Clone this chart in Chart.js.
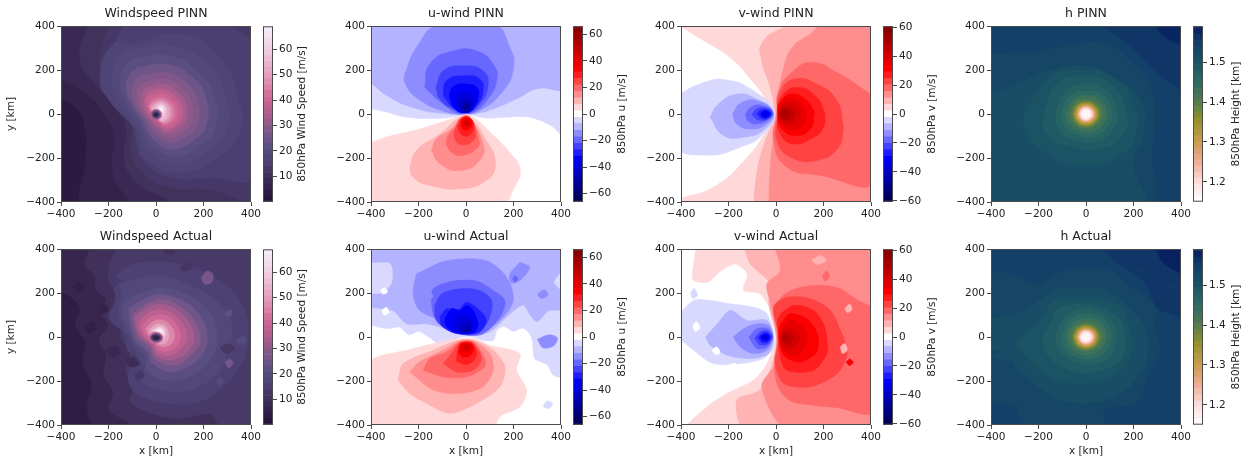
<!DOCTYPE html>
<html>
<head>
<meta charset="utf-8">
<script src="https://cdn.jsdelivr.net/npm/chart.js@4"></script>
<style>
  html, body { margin: 0; background: #fff; }
  #fig { position: relative; width: 1250px; height: 461px; overflow: hidden; filter: blur(0.35px); }
  canvas { position: absolute; }
</style>
</head>
<body>
<div id="fig"></div>
<script>
// contour rows: level, then x,y pairs in km, painted in order (outer first)
const windPinnContours = [
  [3, -420,-420, 420,-420, 420,420, -420,420],
  [5.5, -420,80, -340,30, -300,-60, -295,-200, -290,-420, 420,-420, 420,420, -420,420],
  [8, -420,170, -300,95, -210,-10, -175,-110, -185,-240, -150,-340, -60,-420, 420,-420, 420,420, -420,420],
  [10.5, -285,420, -320,250, -250,130, -165,20, -125,-70, -135,-180, -100,-290, 10,-370, 160,-420, 420,-420, 420,420],
  [12.5, -190,420, -230,300, -230,170, -150,50, -105,-50, -105,-150, -70,-250, 40,-330, 200,-340, 420,-360, 420,420],
  [14.5, -130,420, -170,320, -190,200, -130,60, -90,-40, -85,-130, -50,-215, 50,-285, 220,-290, 420,-270, 420,290, 330,390, 280,420],
  [16.5, -97,317, 113,362, 267,257, 350,60, 350,-90, 240,-210, 100,-265, -40,-210, -80,-120, -95,-60, -195,60, -235,165, -180,317],
  [18.5, -120,290, 60,310, 210,230, 290,90, 295,-70, 210,-175, 90,-225, -30,-175, -65,-100, -80,-50, -150,50, -185,160, -160,250],
  [21, -100,250, 50,265, 170,200, 245,80, 250,-60, 180,-150, 80,-190, -15,-145, -50,-85, -65,-40, -120,45, -150,140, -135,210],
  [24.5, -80,210, 45,225, 150,170, 210,70, 210,-55, 150,-125, 70,-160, -5,-120, -40,-70, -55,-32, -100,40, -125,120, -110,180],
  [27.5, -65,175, 40,190, 125,145, 175,60, 175,-45, 125,-105, 65,-130, 5,-100, -28,-58, -45,-27, -85,35, -100,100, -90,150],
  [30, -50,145, 35,160, 105,120, 150,50, 148,-40, 105,-85, 55,-105, 10,-82, -20,-48, -36,-22, -70,30, -80,85, -70,125],
  [33, -40,120, 35,135, 90,100, 128,45, 125,-32, 90,-70, 50,-85, 15,-68, -12,-40, -28,-18, -55,28, -62,72, -55,105],
  [37, -30,98, 30,112, 78,85, 108,38, 106,-28, 78,-58, 45,-70, 18,-55, -5,-33, -20,-14, -42,25, -48,60, -42,85],
  [40, -22,80, 28,92, 68,70, 92,32, 90,-24, 66,-48, 40,-58, 20,-45, 2,-26, -14,-8, -32,24, -36,50, -32,70],
  [43, -14,66, 28,76, 58,58, 78,28, 76,-20, 56,-40, 36,-48, 20,-37, 6,-20, -8,-2, -24,22, -26,46],
  [47, -8,56, 26,64, 50,50, 66,24, 64,-18, 46,-36, 28,-40, 16,-28, 4,-14, -14,2, -24,22, -24,40],
  [51, -4,48, 24,56, 44,44, 56,20, 54,-14, 38,-30, 22,-34, 4,-18, -10,2, -18,26],
  [55, 0,42, 24,48, 40,36, 46,14, 42,-14, 28,-28, 14,-24, -6,-8, -10,20],
  [59, 4,34, 24,42, 36,30, 38,8, 30,-10, 18,-4, 8,10],
  [63, 8,30, 24,36, 32,26, 32,10, 24,4, 14,12],
  [66, 12,28, 24,32, 30,24, 28,12, 20,10],
  [68, 16,26, 24,28, 27,22, 24,16, 18,18],
  [36, -24,-3, -17,14, 0,21, 17,14, 24,-3, 17,-20, 0,-27, -17,-20],
  [25, -19,-3, -13,10, 0,16, 13,10, 19,-3, 13,-16, 0,-22, -13,-16],
  [14, -14,-3, -10,7, 0,11, 10,7, 14,-3, 10,-13, 0,-17, -10,-13],
  [5, -8,-3, -5,3, 0,5, 5,3, 8,-3, 5,-9, 0,-11, -5,-9]
];
const windActualContours = [
  [4, -420,-420, 420,-420, 420,420, -420,420],
  [7, -420,420, 420,420, 420,-420, -250,-420, -290,-320, -270,-210, -310,-120, -300,-30, -340,60, -320,130, -370,190, -420,210],
  [10, -270,420, -300,330, -260,280, -250,210, -210,170, -230,110, -200,50, -240,-10, -210,-80, -220,-170, -180,-250, -200,-330, -130,-380, -60,-420, 420,-420, 420,420],
  [13, -150,420, -190,350, -200,260, -150,200, -170,130, -130,60, -150,0, -110,-70, -130,-150, -90,-220, -110,-290, -40,-340, 90,-370, 230,-350, 270,-400, 420,-380, 420,420],
  [15.5, -190,260, -100,330, 50,340, 200,300, 330,200, 390,60, 370,-100, 290,-220, 170,-300, 30,-300, -90,-250, -120,-170, -80,-100, -120,-60, -140,20, -200,90, -170,170],
  [18, -160,240, -90,260, 20,280, 130,240, 240,180, 320,60, 300,-80, 250,-180, 130,-245, 20,-240, -60,-200, -50,-140, -75,-85, -100,-30, -140,50, -160,130, -140,190],
  [21, -130,170, -60,200, 10,225, 90,210, 170,170, 240,90, 255,-40, 210,-130, 120,-190, 30,-195, -40,-150, -40,-100, -65,-60, -95,-20, -120,50, -140,110],
  [25, -115,130, -60,165, 10,195, 90,175, 150,140, 205,60, 215,-30, 175,-105, 100,-150, 40,-155, -20,-115, -30,-75, -55,-45, -85,-15, -105,45],
  [29, -100,100, -55,140, 10,170, 70,160, 130,115, 175,50, 185,-30, 145,-85, 90,-125, 40,-125, -10,-95, -20,-60, -45,-30, -75,-5, -90,40],
  [33, -90,85, -50,125, 5,150, 60,140, 110,105, 150,45, 160,-20, 130,-70, 85,-100, 40,-105, -5,-80, -15,-50, -35,-25, -65,0, -80,35],
  [37, -75,65, -40,105, 5,125, 55,115, 95,85, 125,35, 130,-15, 105,-55, 70,-80, 35,-85, 0,-65, -8,-40, -28,-20, -55,5, -68,30],
  [41, -60,50, -30,85, 5,100, 45,95, 80,65, 100,25, 100,-15, 85,-45, 55,-62, 30,-65, 2,-50, -5,-30, -22,-12, -45,8],
  [46, -42,40, -20,65, 10,78, 40,72, 65,48, 78,15, 72,-20, 55,-38, 35,-45, 10,-38, -5,-22, -18,-5, -35,15],
  [51, -28,35, -8,52, 18,60, 40,50, 52,25, 52,-8, 40,-28, 20,-32, 0,-25, -18,-4],
  [58, -15,30, 5,44, 25,46, 38,30, 38,5, 30,-12, 20,-2, 5,12],
  [64, -5,28, 10,38, 25,36, 32,22, 30,8, 18,10],
  [68, 0,28, 14,34, 24,30, 24,18, 12,18],
  [40, -30,-3, -21,15, 0,23, 21,15, 30,-3, 21,-21, 0,-29, -21,-21],
  [26, -25,-3, -17,11, 0,17, 17,11, 25,-3, 17,-17, 0,-23, -17,-17],
  [12, -20,-3, -14,7, 0,11, 14,7, 20,-3, 14,-13, 0,-17, -14,-13],
  [5, -13,-3, -8,3, 0,5, 8,3, 13,-3, 8,-9, 0,-11, -8,-9],
  [26, 190,270, 215,300, 240,285, 235,250, 205,240],
  [22, 290,110, 315,125, 320,100, 295,95],
  [26, 290,-115, 310,-100, 325,-120, 305,-140],
  [12, 270,-50, 300,-30, 330,-55, 295,-75],
  [9, -130,-100, -90,-95, -70,-125, -110,-135],
  [8, -210,-60, -170,-40, -150,-75, -190,-95],
  [5, -350,230, -320,250, -300,225, -330,205],
  [5, -300,40, -270,70, -250,40, -280,15],
  [13, -200,250, -170,275, -150,250, -180,230],
  [12, 100,320, 140,340, 150,310, 115,300],
  [20, 340,-10, 370,5, 380,-25, 350,-35],
  [10, 30,395, 60,410, 80,385, 45,375],
  [4, -330,-20, -310,-5, -295,-30, -320,-45],
  [6, -240,130, -220,150, -200,125, -225,105],
  [12, -90,-170, -60,-155, -50,-180, -80,-195],
  [20, 250,-200, 270,-185, 285,-205, 262,-220]
];
const uPinnContours = [
  [-4.9, -420,28, -340,10, -265,-12, -125,-20, -20,-8, 10,-2, 50,-12, 90,-18, 170,-15, 240,-12, 300,-25, 360,-55, 420,-100, 420,420, -420,420],
  [-9.8, -420,160, -320,75, -200,22, -90,2, -20,0, 40,2, 120,25, 215,70, 300,115, 420,125, 420,420, -420,420],
  [-14.7, -258,181, -209,302, -110,410, 115,410, 185,302, 200,211, 157,106, 58,15, 0,0, -82,8, -209,75, -258,143],
  [-19.6, -174,121, -153,226, -54,287, 44,287, 115,226, 129,151, 86,60, 30,8, -26,0, -96,45],
  [-24.4, -127,121, -96,196, -12,219, 72,196, 93,128, 58,45, 9,8, -54,23, -110,68],
  [-29.3, -96,83, -82,151, -5,174, 58,158, 72,106, 44,38, 2,8, -47,23],
  [-34.2, -71,83, -54,124, 2,136, 47,118, 51,75, 30,23, 0,5, -47,23],
  [-39, -45,60, -30,95, 10,100, 35,75, 30,35, 10,10, -25,18],
  [-44, -30,45, -15,68, 10,68, 25,50, 20,25, 5,8, -15,15],
  [-48.9, -15,35, 0,50, 15,42, 15,22, 2,12, -8,18],
  [-53.8, -6,30, 2,36, 9,28, 4,20, -4,22],
  [4.9, -420,-140, -335,-105, -195,-68, -82,-30, -10,-3, 25,-10, 90,-70, 180,-170, 228,-250, 205,-330, 140,-420, -380,-420, -420,-375],
  [9.8, -237,-242, -209,-166, -110,-91, -26,-15, 9,-8, 86,-121, 124,-226, 86,-302, -26,-340, -153,-325, -223,-287],
  [14.7, -146,-166, -124,-113, -61,-68, -19,-15, 9,-15, 72,-136, 58,-211, -26,-257, -110,-226],
  [19.6, -85,-136, -75,-98, -33,-45, -12,-15, 16,-15, 55,-121, 44,-158, -19,-189, -61,-174],
  [24.4, -51,-91, -40,-53, -19,-18, 16,-18, 41,-91, 23,-128, -12,-140, -40,-128],
  [29.3, -33,-53, -15,-18, 16,-18, 33,-53, 16,-94, -12,-98, -29,-75],
  [34.2, -22,-42, -10,-20, 14,-20, 26,-42, 15,-66, -5,-72, -18,-60],
  [39, -15,-38, 0,-25, 15,-30, 20,-45, 8,-58, -8,-55],
  [44, -8,-38, 3,-32, 12,-38, 8,-48, -3,-48]
];
const uActualContours = [
  [-4.9, -420,60, -335,38, -280,45, -240,10, -200,25, -150,-5, -110,-35, -60,-25, -25,0, 30,0, 70,-15, 115,-15, 130,30, 160,48, 200,25, 240,40, 275,0, 283,-60, 290,-100, 340,-125, 370,-175, 420,-175, 420,420, -420,420],
  [-9.8, -420,135, -310,120, -250,60, -170,60, -110,45, -50,25, 0,10, 60,10, 110,30, 170,90, 240,145, 270,100, 300,70, 350,120, 420,130, 420,420, -420,420, -420,345, -320,335, -310,250, -350,200, -420,190],
  [-14.7, -209,287, -223,196, -195,121, -110,75, -54,30, 44,15, 143,75, 199,166, 171,272, 86,347, -82,347],
  [-19.6, -146,158, -138,219, -54,254, 44,254, 115,211, 164,166, 143,90, 72,15, 2,8, -68,30, -132,90],
  [-24.4, -132,143, -103,196, -26,219, 58,211, 108,166, 100,90, 58,23, 2,12, -61,23, -125,75],
  [-29.3, -110,90, -82,128, -30,125, 2,158, 58,121, 86,75, 58,23, 2,12, -61,23, -103,53],
  [-34.2, -89,83, -61,128, -26,121, 2,143, 30,121, 51,60, 37,23, 2,15, -54,23, -85,53],
  [-39, -60,55, -30,95, 5,100, 30,75, 30,35, 0,18, -40,25],
  [-44, -30,40, -10,68, 15,65, 25,40, 5,20, -20,22],
  [-48.9, -10,35, 5,48, 18,38, 8,22, -6,24],
  [4.9, -420,-128, -377,-91, -251,-60, -138,-30, -40,-8, 37,-8, 100,-38, 227,-75, 213,-151, 255,-241, 227,-317, 143,-362, 108,-420, -420,-420],
  [9.8, -286,-196, -265,-121, -138,-60, -33,-15, 30,-15, 115,-60, 164,-136, 143,-226, 44,-302, -68,-347, -166,-302, -237,-257],
  [14.7, -237,-158, -195,-113, -96,-60, -26,-18, 30,-18, 100,-75, 115,-151, 72,-226, -26,-257, -138,-241],
  [19.6, -180,-151, -152,-98, -82,-68, -26,-23, 30,-23, 79,-98, 79,-136, 2,-181, -96,-181],
  [24.4, -96,-121, -61,-75, -26,-27, 28,-27, 65,-98, 30,-151, -40,-158],
  [29.3, -40,-110, -35,-60, -22,-27, 25,-27, 45,-75, 30,-110, 0,-125],
  [34.2, -32,-70, -20,-30, 22,-30, 32,-60, 12,-88, -15,-90],
  [39, -25,-58, -14,-32, 16,-32, 25,-50, 8,-70, -12,-72],
  [44, -12,-50, 0,-36, 14,-40, 12,-56, -2,-60],
  [-14.7, 227,340, 185,287, 190,245, 227,257, 269,317],
  [-19.6, 195,265, 205,250, 220,265, 205,278],
  [-4.9, 340,-290, 365,-300, 350,-325, 325,-315],
  [-14.7, 300,-10, 350,10, 385,-5, 370,-40, 325,-50],
  [-4.9, 370,250, 400,290, 420,250, 395,220],
  [0, -360,210, -345,225, -330,205, -350,195],
  [0, -355,120, -335,135, -325,110, -345,100],
  [0, 310,-140, 335,-150, 320,-170],
  [-14.7, -180,190, -150,205, -140,180, -170,170],
  [-14.7, 300,195, 330,215, 345,190, 315,175]
];
const vPinnContours = [
  [4.5, -420,410, -300,330, -193,257, -100,150, -50,80, -5,8, -8,-5, -40,-75, -120,-195, -260,-330, -420,-395, -420,-420, 420,-420, 420,420],
  [9, -95,-420, -85,-300, -60,-170, -5,-10, -5,10, -25,120, -60,240, -60,320, 15,385, 100,405, 200,420, 420,420, 420,-420],
  [13.5, -30,-420, -25,-250, -10,-100, 0,-8, 8,70, 35,220, 70,305, 140,360, 215,420, 420,420, 420,-420],
  [18, 420,75, 257,189, 152,234, 74,196, 11,106, 4,0, -10,-121, 46,-242, 186,-279, 420,-315, 420,-100],
  [22.4, 285,-60, 257,60, 172,136, 74,158, 15,90, 8,-7, 4,-121, 60,-196, 172,-211, 264,-151],
  [26.9, 207,0, 172,75, 88,121, 21,75, 7,-7, 18,-91, 74,-136, 158,-106, 200,-60],
  [31.4, 162,8, 130,60, 74,91, 21,60, 8,-7, 25,-68, 81,-98, 144,-68],
  [35.9, 130,10, 100,55, 60,72, 25,50, 10,-5, 28,-55, 70,-75, 115,-50],
  [40.4, 105,5, 80,40, 50,50, 25,38, 13,-5, 30,-40, 60,-50, 90,-30],
  [44.9, 80,0, 62,28, 40,32, 22,20, 15,-5, 30,-30, 52,-30, 70,-18],
  [49.4, 60,0, 48,16, 34,18, 22,8, 20,-6, 32,-18, 46,-16],
  [-4.5, -420,85, -305,143, -214,156, -95,106, -8,8, -53,-91, -151,-151, -291,-187, -420,-143],
  [-9, -278,-15, -243,45, -165,90, -81,68, -11,8, -46,-68, -137,-106, -221,-98],
  [-13.5, -183,0, -151,48, -81,60, -13,8, -39,-45, -109,-68, -165,-45],
  [-18, -130,0, -102,33, -53,38, -13,8, -36,-30, -81,-45, -116,-33],
  [-22.4, -102,-3, -81,23, -39,27, -16,3, -36,-23, -74,-27],
  [-26.9, -80,0, -62,18, -38,18, -20,2, -34,-18, -60,-20],
  [-31.4, -65,0, -52,12, -35,12, -26,0, -36,-14, -54,-14],
  [-35.9, -52,0, -44,7, -34,5, -32,-5, -42,-9]
];
const vActualContours = [
  [4.5, -333,420, -347,332, -347,257, -248,257, -178,332, -122,287, -137,211, -67,196, -10,90, 0,0, -38,-121, -95,-196, -207,-257, -290,-317, -375,-420, 420,-420, 420,420],
  [9, -137,420, -108,332, -25,242, -31,151, 0,0, -11,-106, -71,-242, -165,-287, -129,-420, 420,-420, 420,420],
  [13.5, -10,420, 18,302, -38,242, -25,158, 3,0, -3,-121, -60,-226, 46,-420, 420,-420, 420,420],
  [18, 420,130, 340,170, 270,220, 190,235, 100,225, 30,190, 0,130, 5,40, 5,-30, -8,-120, 10,-230, 60,-290, 150,-310, 250,-320, 420,-340],
  [22.4, 285,0, 300,-75, 258,-166, 145,-226, 32,-211, -3,-121, 11,0, -10,136, 46,181, 145,174, 229,121],
  [26.9, 214,0, 214,-75, 158,-151, 46,-151, 18,-90, 11,0, 11,90, 74,143, 158,121, 200,60],
  [31.4, 179,0, 172,-68, 102,-113, 39,-90, 15,-30, 15,45, 60,106, 130,83, 165,38],
  [35.9, 135,0, 115,-60, 70,-85, 30,-60, 18,-15, 28,45, 60,80, 105,55],
  [40.4, 100,0, 85,-40, 55,-55, 28,-40, 20,-10, 28,25, 55,40, 85,25],
  [44.9, 75,-5, 60,-28, 40,-32, 25,-15, 28,10, 45,20, 65,10],
  [49.4, 55,-5, 42,-18, 30,-10, 32,5, 45,8],
  [-4.5, -420,90, -347,166, -277,166, -193,151, -95,136, -38,106, -10,15, -10,-45, -53,-98, -151,-121, -263,-121, -347,-60, -420,15],
  [-9, -297,0, -247,60, -193,121, -122,75, -38,75, -10,0, -31,-75, -107,-98, -206,-83, -277,-38],
  [-13.5, -180,0, -137,38, -81,60, -31,53, -13,0, -38,-60, -95,-75, -151,-45],
  [-18, -115,0, -80,38, -31,38, -13,0, -36,-45, -80,-53],
  [-22.4, -90,-5, -65,25, -35,28, -16,0, -34,-32, -70,-35],
  [-26.9, -75,-3, -55,18, -35,18, -22,0, -35,-24, -60,-24],
  [-31.4, -65,0, -50,12, -35,10, -28,-2, -38,-16, -55,-15],
  [-35.9, -55,-2, -44,6, -36,2, -38,-8, -48,-10],
  [31.4, 295,-115, 310,-100, 325,-115, 310,-130],
  [9, 290,130, 310,150, 320,125, 300,110],
  [18, 195,280, 215,300, 225,270, 205,255],
  [9, 270,-45, 290,-30, 300,-60, 280,-75],
  [0, -270,-60, -250,-45, -235,-70, -255,-80],
  [0, -210,-130, -170,-120, -175,-140, -215,-150],
  [0, -350,50, -335,70, -320,40, -340,25],
  [0, -300,230, -200,320, -150,300, -240,220],
  [-4.5, -360,200, -345,220, -330,190, -350,175],
  [9, 150,350, 190,370, 210,345, 170,330],
  [18, 310,-200, 340,-180, 360,-215, 330,-240]
];
const hPinnContours = [
  [1.58, -420,-420, 420,-420, 420,420, -420,420],
  [1.56, 270,420, 330,350, 420,270, 420,-420, -420,-420, -420,420],
  [1.545, 40,420, 160,330, 290,195, 420,50, 420,-420, -420,-420, -420,420],
  [1.53, -420,270, -200,285, -30,320, 70,320, 180,250, 270,130, 290,-20, 280,-150, 250,-420, -380,-420, -420,-380],
  [1.515, -420,80, -263,151, -136,204, -10,219, 117,166, 230,60, 240,-100, 200,-220, 230,-420, -380,-420, -420,-380],
  [1.5, -263,0, -256,-75, -165,-181, -10,-234, 152,-181, 208,-91, 201,45, 117,166, -10,200, -136,180, -221,75],
  [1.485, -178,15, -165,-91, -52,-151, 60,-158, 158,-91, 165,30, 102,136, -10,174, -122,136],
  [1.47, -130,15, -115,-70, -50,-115, 40,-125, 110,-75, 130,20, 85,105, -5,135, -85,105]
];
const hActualContours = [
  [1.585, -420,-420, 420,-420, 420,420, -420,420],
  [1.56, -420,-420, -420,420, 270,420, 320,340, 420,250, 420,-420],
  [1.545, 50,420, 120,345, 240,255, 300,130, 420,60, 420,-420, -420,-420, -420,420],
  [1.53, -420,290, -320,290, -200,240, -120,290, 0,310, 110,300, 190,225, 290,140, 290,40, 310,-50, 260,-170, 210,-300, 80,-330, 75,-420, -250,-420, -300,-310, -420,-290],
  [1.515, -420,80, -310,100, -220,150, -130,215, -30,225, 80,215, 170,150, 250,40, 260,-80, 215,-190, 120,-270, 20,-300, -100,-290, -200,-230, -290,-140, -340,-60, -420,-60],
  [1.5, -300,-30, -240,30, -190,80, -130,170, -30,170, 70,170, 150,130, 185,40, 195,-50, 170,-130, 90,-190, 0,-210, -120,-200, -220,-130],
  [1.485, -185,0, -150,60, -120,130, -20,150, 80,130, 150,70, 165,-20, 150,-100, 70,-150, -10,-165, -110,-130, -170,-70],
  [1.47, -130,10, -115,-60, -50,-110, 30,-125, 105,-85, 130,20, 85,100, 0,130, -85,100],
  [1.555, 205,300, 225,285, 235,305, 215,315],
  [1.555, 350,220, 385,225, 380,240, 355,240],
  [1.515, -340,-50, -300,-70, -320,-110, -390,-90]
];
const hCoreContours = [
  [1.45, -105,5, -90,-55, -40,-92, 30,-100, 90,-60, 108,15, 70,85, 0,105, -70,80],
  [1.43, -85,5, -70,-45, -30,-75, 25,-80, 72,-45, 88,10, 58,65, 0,85, -55,62],
  [1.41, -70,2, -55,-40, 0,-65, 55,-40, 72,5, 48,52, 0,68, -48,50],
  [1.39, -60,0, -42,-42, 0,-59, 42,-42, 60,0, 42,42, 0,58, -42,42],
  [1.37, -54,0, -38,-38, 0,-54, 38,-38, 54,0, 38,38, 0,54, -38,38],
  [1.35, -50,0, -35,-35, 0,-50, 35,-35, 50,0, 35,35, 0,50, -35,35],
  [1.33, -46,0, -33,-33, 0,-46, 33,-33, 46,0, 33,33, 0,46, -33,33],
  [1.31, -42,0, -30,-30, 0,-42, 30,-30, 42,0, 30,30, 0,42, -30,30],
  [1.29, -39,0, -28,-28, 0,-39, 28,-28, 39,0, 28,28, 0,39, -28,28],
  [1.27, -36,0, -25,-25, 0,-36, 25,-25, 36,0, 25,25, 0,36, -25,25],
  [1.25, -33,0, -23,-23, 0,-33, 23,-23, 33,0, 23,23, 0,33, -23,23],
  [1.23, -30,0, -21,-21, 0,-30, 21,-21, 30,0, 21,21, 0,30, -21,21],
  [1.21, -27,0, -19,-19, 0,-27, 19,-19, 27,0, 19,19, 0,27, -19,19],
  [1.19, -23,0, -16,-16, 0,-23, 16,-16, 23,0, 16,16, 0,23, -16,16],
  [1.165, -18,0, -13,-13, 0,-18, 13,-13, 18,0, 13,13, 0,18, -13,13]
];

// colorbar band edges and ticks
const windLevels = [0,2.3,4.6,6.9,9.2,11.5,13.8,16.1,18.4,20.7,23,25.3,27.6,29.9,32.2,34.5,36.8,39.1,41.4,43.7,46,48.3,50.6,52.9,55.2,57.5,59.8,62.1,64.4,66.7,69];
const uLevels = [-66,-61.1,-56.2,-51.3,-46.4,-41.5,-36.6,-31.7,-26.9,-22,-17.1,-12.2,-7.3,-2.45,2.45,7.3,12.2,17.1,22,26.9,31.7,36.6,41.5,46.4,51.3,56.2,61.1,66];
const vLevels = [-60.6,-56.1,-51.6,-47.1,-42.6,-38.1,-33.7,-29.2,-24.7,-20.2,-15.7,-11.2,-6.7,-2.25,2.25,6.7,11.2,15.7,20.2,24.7,29.2,33.7,38.1,42.6,47.1,51.6,56.1,60.6];
const hLevels = [1.15,1.165,1.18,1.195,1.21,1.225,1.24,1.255,1.27,1.285,1.3,1.315,1.33,1.345,1.36,1.375,1.39,1.405,1.42,1.435,1.45,1.465,1.48,1.495,1.51,1.525,1.54,1.555,1.57,1.59];
const windTicks = [10,20,30,40,50,60];
const uTicks = [-60,-40,-20,0,20,40,60];
const vTicks = [-60,-40,-20,0,20,40,60];
const hTicks = [1.2,1.3,1.4,1.5];
const axisTicks = [-400,-200,0,200,400];

// colormaps: [value, r, g, b]
const windStops = [[0,38,16,56],[5,50,32,72],[10,64,48,90],[15,76,64,114],[20,84,76,126],[25,112,86,136],[30,142,90,138],[35,178,94,142],[40,204,100,148],[45,218,130,166],[50,228,160,190],[55,234,184,208],[60,240,208,228],[65,242,226,240],[69,243,238,250]];
const seismicU = [[-66,0,0,77],[-33,0,0,255],[0,255,255,255],[33,255,0,0],[66,128,0,0]];
const seismicV = [[-60.6,0,0,77],[-30.3,0,0,255],[0,255,255,255],[30.3,255,0,0],[60.6,128,0,0]];
const hStops = [[1.15,255,255,255],[1.2,252,220,220],[1.25,238,172,145],[1.3,200,156,76],[1.35,152,146,44],[1.4,84,124,76],[1.45,46,106,100],[1.5,26,83,100],[1.55,18,62,104],[1.59,6,30,96]];

const plotLefts = [61, 371, 681, 991];
const rowTops = [26, 249];
const plotW = 190, plotH = 176, marginL = 56, marginR = 14, marginT = 24;
const barW = 10, barGap = 12;
const inkColor = "#222", frameColor = "#4a4a4a";
const fontFamily = "'DejaVu Sans', sans-serif";

const fig = document.getElementById("fig");

function cmap(stops, v) {
  if (v <= stops[0][0]) return `rgb(${stops[0].slice(1)})`;
  for (let i = 1; i < stops.length; i++) {
    if (v <= stops[i][0]) {
      const a = stops[i - 1], b = stops[i];
      const t = (v - a[0]) / (b[0] - a[0]);
      return `rgb(${Math.round(a[1] + (b[1] - a[1]) * t)},${Math.round(a[2] + (b[2] - a[2]) * t)},${Math.round(a[3] + (b[3] - a[3]) * t)})`;
    }
  }
  return `rgb(${stops[stops.length - 1].slice(1)})`;
}

function addCanvas(left, top, w, h) {
  const c = document.createElement("canvas");
  c.width = w;
  c.height = h;
  c.style.left = left + "px";
  c.style.top = top + "px";
  c.style.width = w + "px";
  c.style.height = h + "px";
  fig.appendChild(c);
  return c;
}

function minusLabel(v) {
  return String(v).replace("-", "\u2212");
}

const framePlugin = {
  id: "frame",
  afterDraw(chart) {
    const a = chart.chartArea, ctx = chart.ctx;
    ctx.save();
    ctx.strokeStyle = frameColor;
    ctx.lineWidth = 1;
    ctx.strokeRect(a.left + 0.5, a.top + 0.5, a.width - 1, a.height - 1);
    ctx.restore();
  }
};

function contourDataset(row, stops, tension) {
  const pts = [];
  for (let i = 1; i < row.length; i += 2) pts.push({ x: row[i], y: row[i + 1] });
  pts.push(pts[0]);
  return {
    data: pts,
    showLine: true,
    fill: "shape",
    backgroundColor: cmap(stops, row[0]),
    borderColor: cmap(stops, row[0]),
    borderWidth: 0.5,
    pointRadius: 0,
    tension: tension,
    capBezierPoints: false
  };
}

function drawPanel(col, row, title, rows, stops, tension) {
  const xLabel = row === 1;
  const yLabel = col === 0;
  const bottom = xLabel ? 36 : 26;
  const canvas = addCanvas(plotLefts[col] - marginL, rowTops[row] - marginT, marginL + plotW + marginR, marginT + plotH + bottom);
  // chart.js paints the first dataset last, so reverse the painting order here
  const datasets = rows.map((r) => contourDataset(r, stops, tension)).reverse();
  const tickFont = { family: fontFamily, size: 10.5 };
  new Chart(canvas, {
    type: "scatter",
    data: { datasets },
    plugins: [framePlugin],
    options: {
      responsive: false,
      animation: false,
      events: [],
      layout: { padding: { right: marginR } },
      plugins: {
        legend: { display: false },
        tooltip: { enabled: false },
        title: {
          display: true,
          fullSize: false, // centre over the plot, not the whole canvas
          text: title,
          color: inkColor,
          font: { family: fontFamily, size: 12.5, weight: "normal", lineHeight: 1.2 },
          padding: { top: 4.5, bottom: 4.5 }
        }
      },
      scales: {
        x: {
          type: "linear",
          min: -400,
          max: 400,
          afterFit: (s) => { s.height = bottom; },
          afterBuildTicks: (s) => { s.ticks = axisTicks.map((v) => ({ value: v })); },
          grid: { drawOnChartArea: false, tickLength: 4, color: frameColor },
          border: { display: false },
          ticks: { color: inkColor, font: tickFont, padding: 2, maxRotation: 0, callback: minusLabel },
          title: { display: xLabel, text: "x [km]", color: inkColor, font: { family: fontFamily, size: 10.5 }, padding: { top: 0, bottom: 3 } }
        },
        y: {
          type: "linear",
          min: -400,
          max: 400,
          afterFit: (s) => { s.width = marginL; },
          afterBuildTicks: (s) => { s.ticks = axisTicks.map((v) => ({ value: v })); },
          grid: { drawOnChartArea: false, tickLength: 4, color: frameColor },
          border: { display: false },
          ticks: { color: inkColor, font: tickFont, padding: 2, callback: minusLabel },
          title: { display: yLabel, text: "y [km]", color: inkColor, font: { family: fontFamily, size: 10.5 }, padding: { top: 0, bottom: 3 } }
        }
      }
    }
  });
}

function drawColorbar(col, row, label, labelGap, levels, ticks, stops, tickFmt) {
  const pad = 8, axisW = 60;
  const canvas = addCanvas(plotLefts[col] + plotW + barGap, rowTops[row] - pad, barW + axisW, plotH + pad * 2);
  const datasets = [];
  for (let i = 0; i < levels.length - 1; i++) {
    datasets.push({
      data: [[levels[i], levels[i + 1]]],
      backgroundColor: cmap(stops, (levels[i] + levels[i + 1]) / 2),
      borderWidth: 0,
      barPercentage: 1,
      categoryPercentage: 1,
      grouped: false
    });
  }
  const labelPlugin = {
    id: "cbarLabel",
    afterDraw(chart) {
      const a = chart.chartArea, ctx = chart.ctx;
      ctx.save();
      ctx.translate(a.right + labelGap, (a.top + a.bottom) / 2);
      ctx.rotate(-Math.PI / 2);
      ctx.font = `10.5px ${fontFamily}`;
      ctx.fillStyle = inkColor;
      ctx.textAlign = "center";
      ctx.textBaseline = "middle";
      ctx.fillText(label, 0, 0);
      ctx.restore();
    }
  };
  new Chart(canvas, {
    type: "bar",
    data: { labels: [""], datasets },
    plugins: [framePlugin, labelPlugin],
    options: {
      responsive: false,
      animation: false,
      events: [],
      layout: { padding: { top: pad, bottom: pad } },
      plugins: { legend: { display: false }, tooltip: { enabled: false } },
      scales: {
        x: { display: false },
        y: {
          position: "right",
          min: levels[0],
          max: levels[levels.length - 1],
          afterFit: (s) => { s.width = axisW; },
          afterBuildTicks: (s) => { s.ticks = ticks.map((v) => ({ value: v })); },
          grid: { drawOnChartArea: false, tickLength: 4, color: frameColor },
          border: { display: false },
          ticks: { color: inkColor, font: { family: fontFamily, size: 10.5 }, padding: 2, callback: tickFmt }
        }
      }
    }
  });
}

const hFmt = (v) => v.toFixed(1);

[0, 1].forEach((row) => {
  const pinn = row === 0;
  const t = pinn ? 0.5 : 0.3;
  const name = pinn ? "PINN" : "Actual";
  drawPanel(0, row, `Windspeed ${name}`, pinn ? windPinnContours : windActualContours, windStops, t);
  drawColorbar(0, row, "850hPa Wind Speed [m/s]", 29, windLevels, windTicks, windStops, minusLabel);
  drawPanel(1, row, `u-wind ${name}`, pinn ? uPinnContours : uActualContours, seismicU, t);
  drawColorbar(1, row, "850hPa u [m/s]", 39, uLevels, uTicks, seismicU, minusLabel);
  drawPanel(2, row, `v-wind ${name}`, pinn ? vPinnContours : vActualContours, seismicV, t);
  drawColorbar(2, row, "850hPa v [m/s]", 39, vLevels, vTicks, seismicV, minusLabel);
  drawPanel(3, row, `h ${name}`, (pinn ? hPinnContours : hActualContours).concat(hCoreContours), hStops, t);
  drawColorbar(3, row, "850hPa Height [km]", 33, hLevels, hTicks, hStops, hFmt);
});
</script>
</body>
</html>
